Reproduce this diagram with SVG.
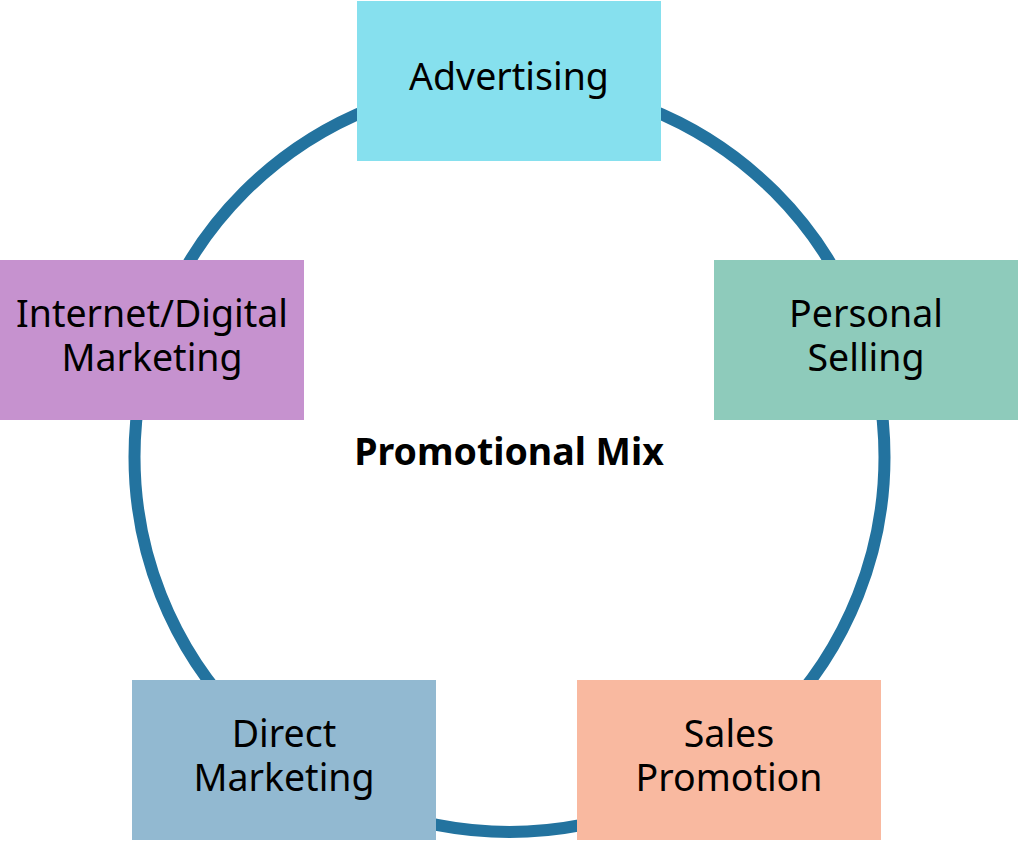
<svg xmlns="http://www.w3.org/2000/svg" width="1018" height="842" viewBox="0 0 1018 842">
<style>
.lbl{font-family:"Noto Sans","Open Sans",sans-serif;font-size:37.5px;fill:#000;text-anchor:middle}
.title{font-family:"Noto Sans","Open Sans",sans-serif;font-size:37.5px;font-weight:bold;fill:#000;text-anchor:middle}
</style>
<rect width="1018" height="842" fill="#fff"/>
<g id="connectors">
<circle cx="509.5" cy="457" r="375" fill="none" stroke="#23739f" stroke-width="12"/>
</g>
<g id="advertising">
<rect x="357" y="1" width="304" height="160" fill="#86e0ee"/>
<text class="lbl" x="509" y="90">Advertising</text>
</g>
<g id="internet">
<rect x="0" y="260" width="304" height="160" fill="#c692cf"/>
<text class="lbl" x="152" y="327">Internet/Digital</text>
<text class="lbl" x="152" y="371">Marketing</text>
</g>
<g id="personal">
<rect x="714" y="260" width="304" height="160" fill="#8ecbbb"/>
<text class="lbl" x="866" y="327">Personal</text>
<text class="lbl" x="866" y="371">Selling</text>
</g>
<g id="direct">
<rect x="132" y="680" width="304" height="160" fill="#92b9d1"/>
<text class="lbl" x="284" y="747">Direct</text>
<text class="lbl" x="284" y="791">Marketing</text>
</g>
<g id="sales">
<rect x="577" y="680" width="304" height="160" fill="#f9b9a0"/>
<text class="lbl" x="729" y="747">Sales</text>
<text class="lbl" x="729" y="791">Promotion</text>
</g>
<g id="center">
<text class="title" x="509" y="465">Promotional Mix</text>
</g>
</svg>
